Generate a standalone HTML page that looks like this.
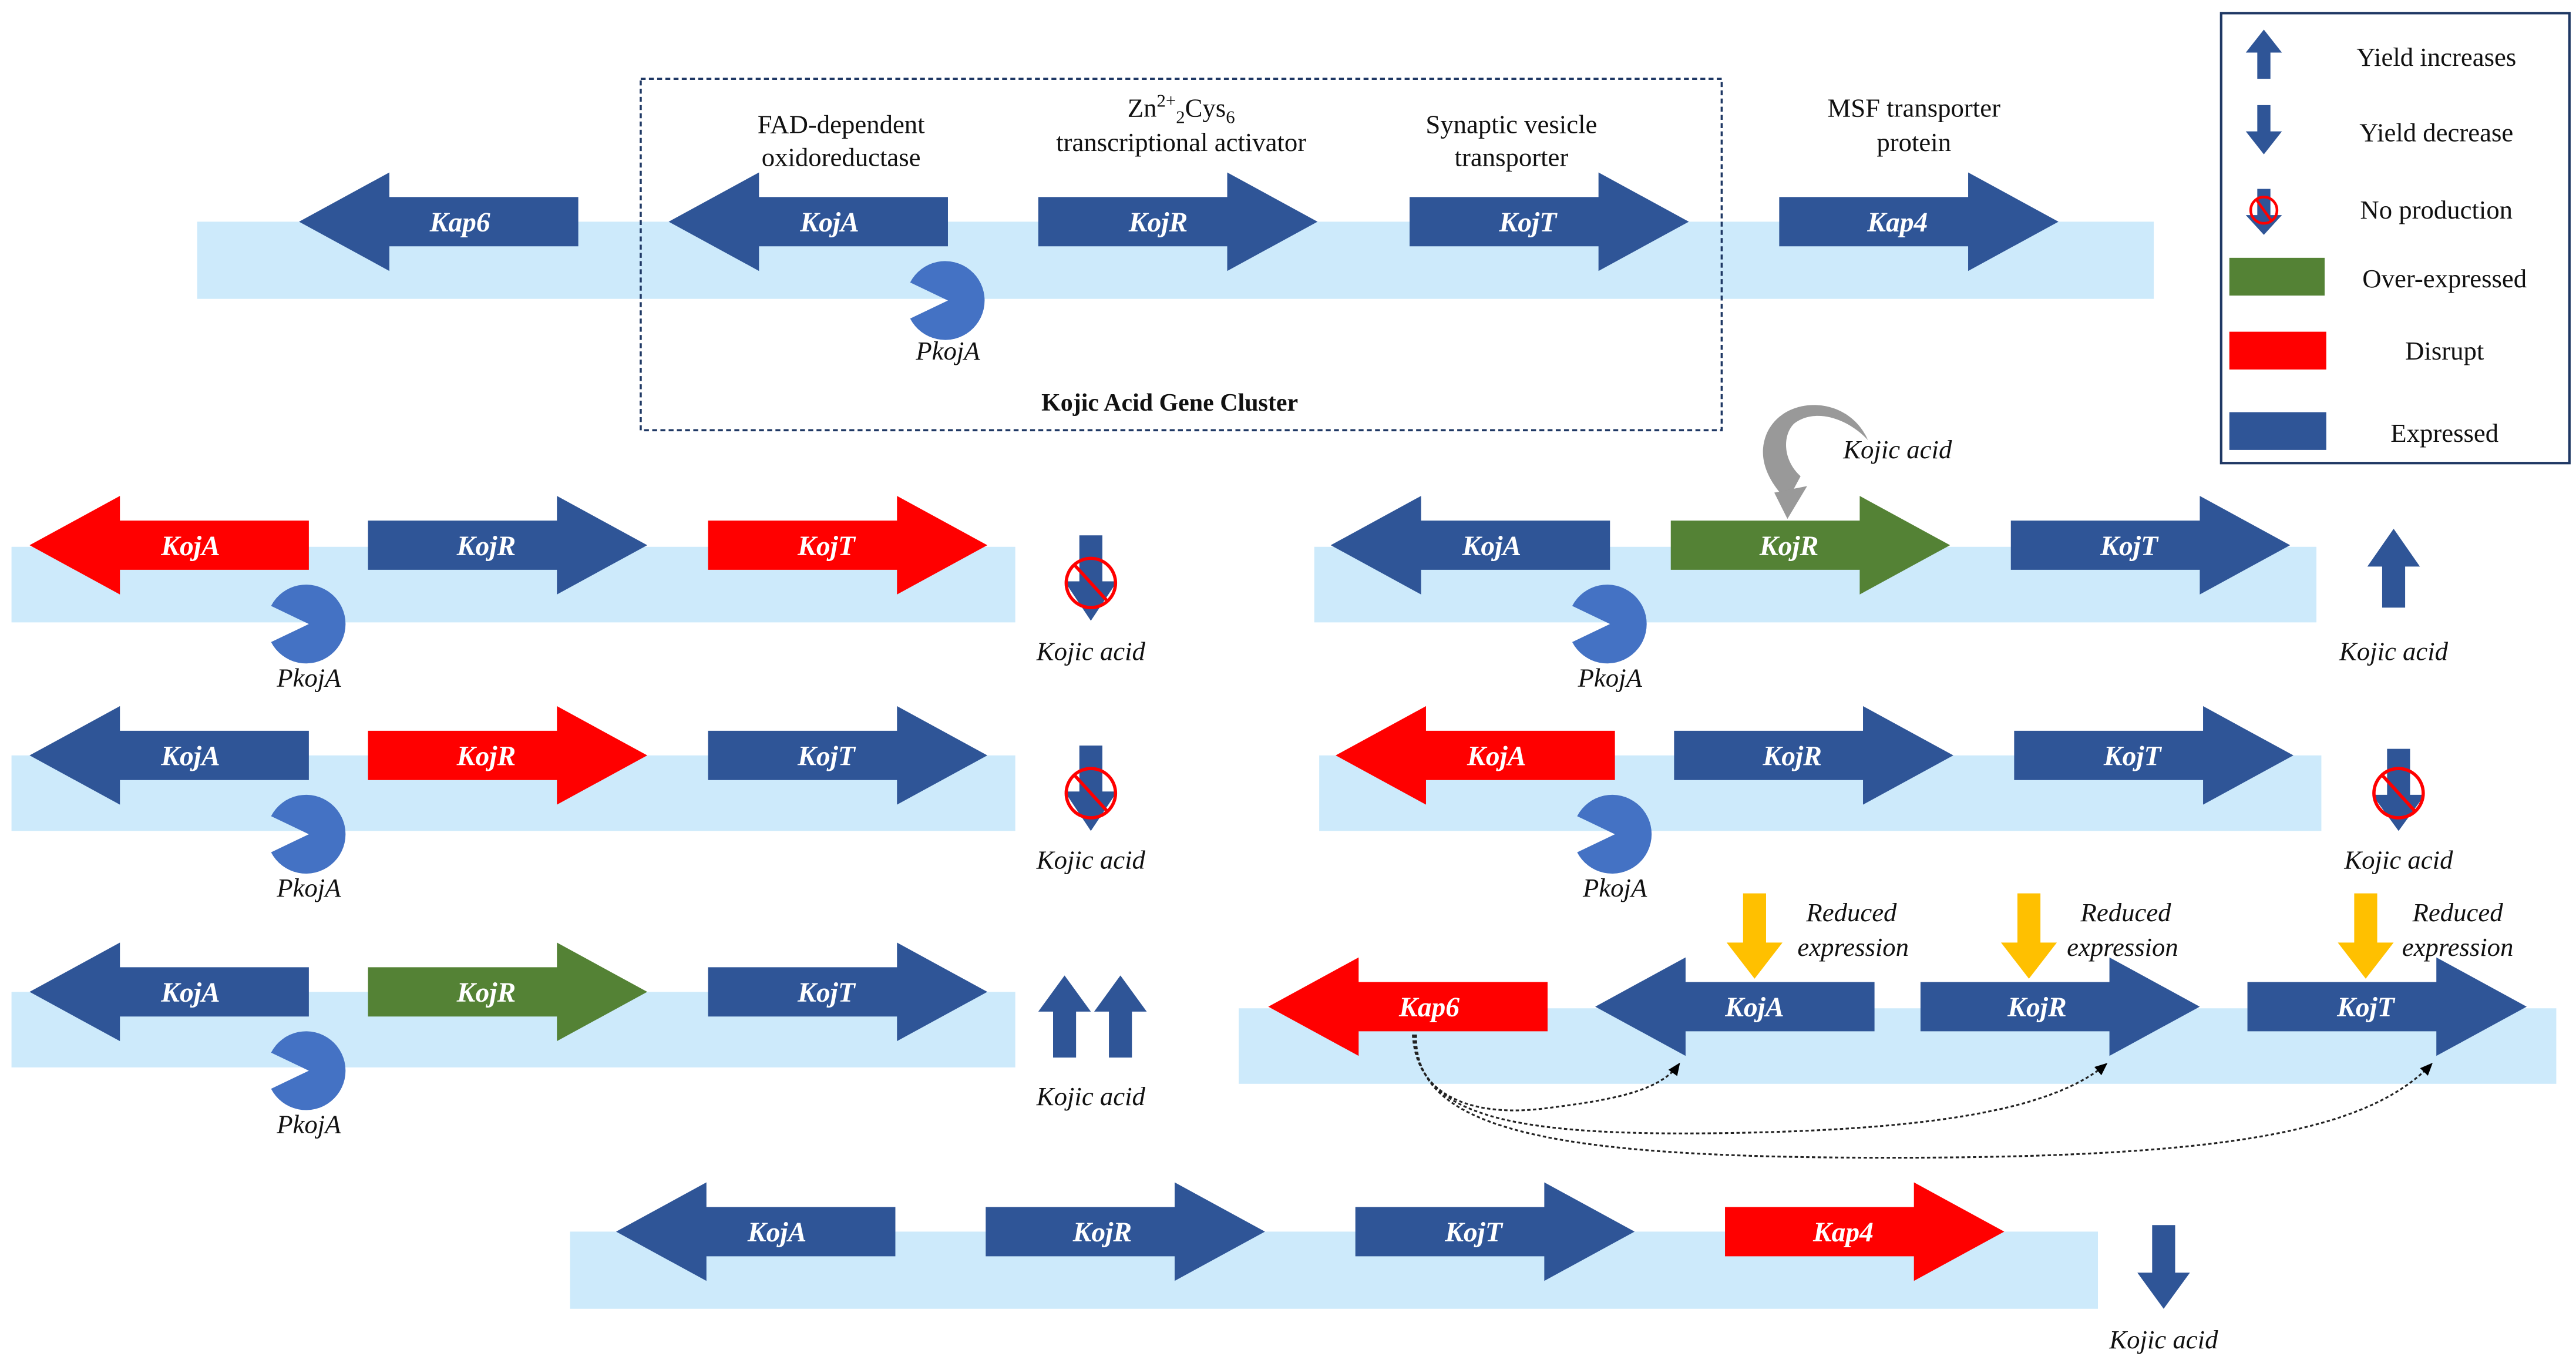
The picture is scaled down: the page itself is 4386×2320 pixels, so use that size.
<!DOCTYPE html>
<html><head><meta charset="utf-8"><style>
html,body{margin:0;padding:0;background:#fff;}
svg{display:block;}
.g{font-family:"Liberation Serif",serif;font-style:italic;font-weight:bold;font-size:17px;fill:#fff;text-anchor:middle;}
.t{font-family:"Liberation Serif",serif;font-size:16px;fill:#111;text-anchor:middle;}
.i{font-family:"Liberation Serif",serif;font-style:italic;font-size:16px;fill:#111;text-anchor:middle;}
</style></head><body>
<svg width="4386" height="2320" viewBox="0 0 1568 830" preserveAspectRatio="none" xmlns="http://www.w3.org/2000/svg">
<defs>
<symbol id="R" viewBox="0 0 170 60" overflow="visible"><path d="M0 15H115V0L170 30L115 60V45H0Z"/></symbol>
<symbol id="L" viewBox="0 0 170 60" overflow="visible"><path d="M170 15H55V0L0 30L55 60V45H170Z"/></symbol>
<marker id="ah" markerWidth="8" markerHeight="8" refX="6" refY="4" orient="auto"><path d="M0 1L7 4L0 7Z" fill="#000"/></marker>
</defs>
<g fill="#cdeafb">
<rect x="120" y="135" width="1191" height="47"/>
<rect x="7" y="333" width="611" height="46"/>
<rect x="7" y="460" width="611" height="46"/>
<rect x="7" y="604" width="611" height="46"/>
<rect x="800" y="333" width="610" height="46"/>
<rect x="803" y="460" width="610" height="46"/>
<rect x="754" y="614" width="802" height="46"/>
<rect x="347" y="750" width="930" height="47"/>
</g>
<rect x="390" y="48" width="658" height="214" fill="none" stroke="#1f3864" stroke-width="1.3" stroke-dasharray="3,2"/>
<g fill="#2f5597">
<!-- row 1 -->
<use href="#L" x="182" y="105" width="170" height="60"/>
<use href="#L" x="407" y="105" width="170" height="60"/>
<use href="#R" x="632" y="105" width="170" height="60"/>
<use href="#R" x="858" y="105" width="170" height="60"/>
<use href="#R" x="1083" y="105" width="170" height="60"/>
<!-- A -->
<use href="#L" x="18" y="302" width="170" height="60" fill="#ff0000"/>
<use href="#R" x="224" y="302" width="170" height="60"/>
<use href="#R" x="431" y="302" width="170" height="60" fill="#ff0000"/>
<!-- B -->
<use href="#L" x="18" y="430" width="170" height="60"/>
<use href="#R" x="224" y="430" width="170" height="60" fill="#ff0000"/>
<use href="#R" x="431" y="430" width="170" height="60"/>
<!-- C -->
<use href="#L" x="18" y="574" width="170" height="60"/>
<use href="#R" x="224" y="574" width="170" height="60" fill="#548235"/>
<use href="#R" x="431" y="574" width="170" height="60"/>
<!-- D -->
<use href="#L" x="810" y="302" width="170" height="60"/>
<use href="#R" x="1017" y="302" width="170" height="60" fill="#548235"/>
<use href="#R" x="1224" y="302" width="170" height="60"/>
<!-- E -->
<use href="#L" x="813" y="430" width="170" height="60" fill="#ff0000"/>
<use href="#R" x="1019" y="430" width="170" height="60"/>
<use href="#R" x="1226" y="430" width="170" height="60"/>
<!-- F -->
<use href="#L" x="772" y="583" width="170" height="60" fill="#ff0000"/>
<use href="#L" x="971" y="583" width="170" height="60"/>
<use href="#R" x="1169" y="583" width="170" height="60"/>
<use href="#R" x="1368" y="583" width="170" height="60"/>
<!-- G -->
<use href="#L" x="375" y="720" width="170" height="60"/>
<use href="#R" x="600" y="720" width="170" height="60"/>
<use href="#R" x="825" y="720" width="170" height="60"/>
<use href="#R" x="1050" y="720" width="170" height="60" fill="#ff0000"/>
</g>
<!-- gene labels -->
<g class="g">
<text x="280" y="141">Kap6</text><text x="505" y="141">KojA</text><text x="705" y="141">KojR</text><text x="930" y="141">KojT</text><text x="1155" y="141">Kap4</text>
<text x="116" y="338">KojA</text><text x="296" y="338">KojR</text><text x="503" y="338">KojT</text>
<text x="116" y="466">KojA</text><text x="296" y="466">KojR</text><text x="503" y="466">KojT</text>
<text x="116" y="610">KojA</text><text x="296" y="610">KojR</text><text x="503" y="610">KojT</text>
<text x="908" y="338">KojA</text><text x="1089" y="338">KojR</text><text x="1296" y="338">KojT</text>
<text x="911" y="466">KojA</text><text x="1091" y="466">KojR</text><text x="1298" y="466">KojT</text>
<text x="870" y="619">Kap6</text><text x="1068" y="619">KojA</text><text x="1240" y="619">KojR</text><text x="1440" y="619">KojT</text>
<text x="473" y="756">KojA</text><text x="671" y="756">KojR</text><text x="897" y="756">KojT</text><text x="1122" y="756">Kap4</text>
</g>
<!-- pacman promoters -->
<g fill="#4472c4">
<path d="M577 183 L554 172 A24 24 0 1 1 554 194 Z"/>
<path d="M188 380 L165 369 A24 24 0 1 1 165 391 Z"/>
<path d="M188 508 L165 497 A24 24 0 1 1 165 519 Z"/>
<path d="M188 652 L165 641 A24 24 0 1 1 165 663 Z"/>
<path d="M980 380 L957 369 A24 24 0 1 1 957 391 Z"/>
<path d="M983 508 L960 497 A24 24 0 1 1 960 519 Z"/>
</g>
<g class="i">
<text x="577" y="219">PkojA</text>
<text x="188" y="418">PkojA</text><text x="188" y="546">PkojA</text><text x="188" y="690">PkojA</text>
<text x="980" y="418">PkojA</text><text x="983" y="546">PkojA</text>
<text x="664" y="402">Kojic acid</text><text x="664" y="529">Kojic acid</text><text x="664" y="673">Kojic acid</text>
<text x="1457" y="402">Kojic acid</text><text x="1460" y="529">Kojic acid</text><text x="1317" y="821">Kojic acid</text>
<text x="1155" y="279">Kojic acid</text>
<text x="1127" y="561">Reduced</text><text x="1128" y="582">expression</text>
<text x="1294" y="561">Reduced</text><text x="1292" y="582">expression</text>
<text x="1496" y="561">Reduced</text><text x="1496" y="582">expression</text>
</g>
<!-- top labels -->
<g class="t">
<text x="512" y="81">FAD-dependent</text><text x="512" y="101">oxidoreductase</text>
<text x="719" y="71">Zn<tspan font-size="11" dy="-6">2+</tspan><tspan font-size="11" dy="10">2</tspan><tspan dy="-4">Cys</tspan><tspan font-size="11" dy="4">6</tspan></text>
<text x="719" y="92">transcriptional activator</text>
<text x="920" y="81">Synaptic vesicle</text><text x="920" y="101">transporter</text>
<text x="1165" y="71">MSF transporter</text><text x="1165" y="92">protein</text>
<text x="712" y="250" font-weight="bold" font-size="15">Kojic Acid Gene Cluster</text>
</g>
<!-- yield symbols -->
<g fill="#2f5597">
<path d="M657 326H671V354H680L664 378L648 354H657Z"/>
<path d="M657 454H671V482H680L664 506L648 482H657Z"/>
<path d="M1450 370H1464V345H1473L1457 322L1441 345H1450Z"/>
<path d="M641 644H655V616H664L648 594L632 616H641Z"/>
<path d="M675 644H689V616H698L682 594L666 616H675Z"/>
<path d="M1310 746H1324V775H1333L1317 797L1301 775H1310Z"/>
<path d="M1453 456H1467V484H1476L1460 506L1444 484H1453Z"/>
</g>
<g fill="none" stroke="#ff0000" stroke-width="2">
<circle cx="664" cy="355" r="15"/><line x1="654" y1="344" x2="674" y2="366"/>
<circle cx="664" cy="483" r="15"/><line x1="654" y1="472" x2="674" y2="494"/>
<circle cx="1460" cy="483" r="15"/><line x1="1450" y1="472" x2="1470" y2="494"/>
</g>
<!-- yellow arrows -->
<g fill="#ffc000">
<path d="M1061 544H1075V574H1085L1068 596L1051 574H1061Z"/>
<path d="M1228 544H1242V574H1252L1235 596L1218 574H1228Z"/>
<path d="M1433 544H1447V574H1457L1440 596L1423 574H1433Z"/>
</g>
<!-- gray curved arrow -->
<path d="M1137 268 C1125 240 1085 240 1075 265 C1070 278 1075 292 1088 305 L1096 290 C1085 280 1085 265 1092 258 C1105 248 1125 255 1137 268Z" fill="#999"/>
<path d="M1080 300 L1100 296 L1088 316 Z" fill="#999"/>
<!-- dotted curves -->
<g fill="none" stroke="#222" stroke-width="1.1" stroke-dasharray="2,1.5" marker-end="url(#ah)">
<path d="M860 630 C862 670 900 680 940 675 C980 670 1010 665 1022 648"/>
<path d="M861 630 C862 680 920 692 1050 690 C1180 688 1250 675 1282 648"/>
<path d="M862 630 C860 690 950 705 1150 705 C1350 705 1440 690 1480 648"/>
</g>
<!-- legend -->
<rect x="1352" y="8" width="212" height="274" fill="#fff" stroke="#1f3864" stroke-width="1.5"/>
<g fill="#2f5597">
<path d="M1374 48H1382V32H1389L1378 18L1367 32H1374Z"/>
<path d="M1374 64H1382V80H1389L1378 94L1367 80H1374Z"/>
<path d="M1374 115H1382V131H1389L1378 143L1367 131H1374Z"/>
<rect x="1357" y="251" width="59" height="23"/>
</g>
<circle cx="1378" cy="128" r="8" fill="none" stroke="#ff0000" stroke-width="1.6"/>
<line x1="1373" y1="121" x2="1383" y2="135" stroke="#ff0000" stroke-width="1.6"/>
<rect x="1357" y="157" width="58" height="23" fill="#548235"/>
<rect x="1357" y="202" width="59" height="23" fill="#ff0000"/>
<g class="t">
<text x="1483" y="40">Yield increases</text>
<text x="1483" y="86">Yield decrease</text>
<text x="1483" y="133">No production</text>
<text x="1488" y="175">Over-expressed</text>
<text x="1488" y="219">Disrupt</text>
<text x="1488" y="269">Expressed</text>
</g>
</svg>
</body></html>
